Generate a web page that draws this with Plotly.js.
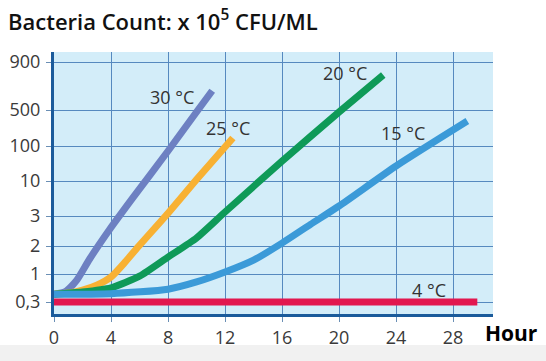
<!DOCTYPE html>
<html>
<head>
<meta charset="utf-8">
<script src="https://cdn.plot.ly/plotly-3.0.1.min.js"></script>
<style>
  html, body { margin: 0; padding: 0; background: #ffffff; }
  #chart { width: 546px; height: 361px; }
</style>
</head>
<body>
<div id="chart"></div>
<script>
// ---- Data (bacteria count, x10^5 CFU/ML, vs hours) ----
const hours30 = [0, 0.8, 1.6, 2.5, 3.9, 5.5, 8, 10, 11.1];
const count30 = [0.42, 0.47, 0.77, 1.45, 2.5, 5.5, 72, 457, 633];

const hours25 = [0, 1, 2, 3, 4, 5, 6, 8, 10, 12.55];
const count25 = [0.42, 0.44, 0.50, 0.62, 0.88, 1.35, 2.02, 3.3, 11, 143];

const hours20 = [0, 2, 4, 6, 8, 10, 12, 16, 20, 23.1];
const count20 = [0.42, 0.46, 0.55, 0.91, 1.52, 2.23, 3.44, 37, 457, 768];

const hours15 = [0, 4, 8, 10, 12, 14, 16, 18, 20, 24, 29];
const count15 = [0.42, 0.43, 0.52, 0.71, 1.05, 1.41, 2.08, 2.68, 4.23, 26.8, 305];

const hours4 = [0, 29.7];
const count4 = [0.3, 0.3];

const seriesNames = ["30 °C", "25 °C", "20 °C", "15 °C", "4 °C"];

// Y axis tick values and labels (the source uses an irregular ordinal scale)
const yTickValues = [0.3, 1, 2, 3, 10, 100, 500, 900];
const yTickLabels = ["0,3", "1", "2", "3", "10", "100", "500", "900"];
const xTickValues = [0, 4, 8, 12, 16, 20, 24, 28];

// ---- Scale: axis units for each y tick (irregular spacing of the source axis) ----
const yTickAxisPos = [12, 40, 68, 98, 133, 168, 204, 252];
function toAxis(v) {
  const lv = Math.log10(v);
  const lt = yTickValues.map(Math.log10);
  if (lv <= lt[0]) return yTickAxisPos[0];
  for (let i = 0; i < lt.length - 1; i++) {
    if (lv <= lt[i + 1]) {
      const t = (lv - lt[i]) / (lt[i + 1] - lt[i]);
      return yTickAxisPos[i] + t * (yTickAxisPos[i + 1] - yTickAxisPos[i]);
    }
  }
  return yTickAxisPos[yTickAxisPos.length - 1];
}

function trace(xs, vs, color, shape) {
  return {
    x: xs, y: vs.map(toAxis), customdata: vs,
    type: "scatter", mode: "lines",
    line: { color: color, width: 7, shape: shape, smoothing: 0.6 },
    hoverinfo: "skip", showlegend: false
  };
}

const data = [
  trace(hours4, count4, "#e2174f", "linear"),
  trace(hours30, count30, "#6d80c2", "spline"),
  trace(hours25, count25, "#f8b133", "spline"),
  trace(hours20, count20, "#0f9a58", "spline"),
  trace(hours15, count15, "#3b9ad8", "spline")
];

const labelFont = { family: "Open Sans, sans-serif", size: 18, color: "#333333" };
const labelPos = [
  [8.28, 217], [12.2, 186], [20.4, 241], [24.5, 181], [26.3, 24]
];
const annotations = seriesNames.map((n, i) => ({
  x: labelPos[i][0], y: labelPos[i][1], xref: "x", yref: "y",
  text: n, showarrow: false, font: labelFont, xanchor: "center", yanchor: "middle"
}));

const L = 54, R = 53, T = 52, B = 47, W = 546, H = 361;
const pw = W - L - R, ph = H - T - B;
annotations.push({
  x: (511 - L) / pw, y: (H - B - 333) / ph, xref: "paper", yref: "paper",
  text: "Hour", showarrow: false,
  font: { family: "Open Sans, sans-serif", size: 21, color: "#000000", weight: 700 },
  xanchor: "center", yanchor: "middle"
});

const layout = {
  width: W, height: H,
  margin: { l: L, r: R, t: T, b: B, pad: 0 },
  paper_bgcolor: "#ffffff",
  plot_bgcolor: "#d3edf9",
  title: {
    text: "Bacteria Count: x 10<sup>5</sup> CFU/ML",
    font: { family: "Open Sans, sans-serif", size: 22, color: "#111111", weight: 600 },
    x: 8 / W, xanchor: "left", xref: "container",
    y: 1 - 22 / H, yanchor: "middle", yref: "container"
  },
  xaxis: {
    range: [0, 30.8], tickvals: xTickValues, ticktext: xTickValues.map(String),
    showgrid: true, gridcolor: "#5689bf", gridwidth: 1,
    zeroline: false, showline: true, linecolor: "#1b5b9b", linewidth: 3,
    ticks: "outside", ticklen: 5, tickcolor: "#6b8fb5", tickwidth: 1,
    tickfont: { family: "Open Sans, sans-serif", size: 18, color: "#3a3a3a" },
    fixedrange: true
  },
  yaxis: {
    range: [0, 262], tickvals: yTickValues.map(toAxis), ticktext: yTickLabels,
    showgrid: true, gridcolor: "#5689bf", gridwidth: 1,
    zeroline: false, showline: true, linecolor: "#1b5b9b", linewidth: 3,
    ticks: "outside", ticklen: 5, tickcolor: "#6b8fb5", tickwidth: 1,
    ticklabelstandoff: 2,
    tickfont: { family: "Open Sans, sans-serif", size: 18, color: "#3a3a3a" },
    fixedrange: true
  },
  shapes: [{
    type: "rect", xref: "paper", yref: "paper", layer: "below",
    x0: -L / pw, x1: 1 + R / pw,
    y0: -(B) / ph, y1: -(B - 16) / ph,
    fillcolor: "#f1f1f1", line: { width: 0 }
  }],
  annotations: annotations
};

Plotly.newPlot("chart", data, layout, { displayModeBar: false, staticPlot: true });
</script>
</body>
</html>
